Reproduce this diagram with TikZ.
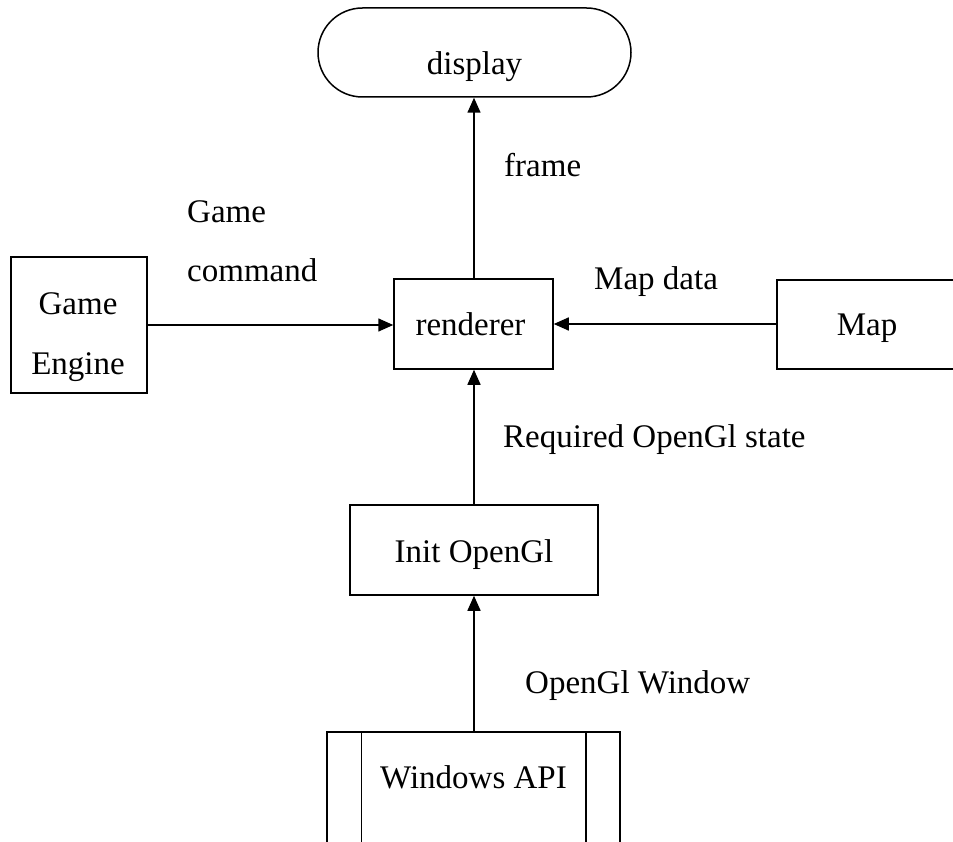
\documentclass[tikz,border=0pt]{standalone}
\usepackage{fontspec}
\setmainfont{Liberation Serif}
\usetikzlibrary{arrows.meta}
\newcommand\mytxt[3]{\raisebox{#2}[0pt][0pt]{\makebox[0pt]{\hspace*{#1}\hspace*{#1}#3}}}
\tikzset{
  box/.style={draw, line width=1.5pt, inner sep=0pt},
  arr/.style={line width=1.5pt, -{Triangle[length=15pt,width=13pt]}},
  lbl/.style={anchor=base west, inner sep=0pt},
}
\begin{document}
\begin{tikzpicture}[x=1pt,y=-1pt,font=\fontsize{33}{38}\selectfont]
\useasboundingbox (0,0) rectangle (953,842);
\clip (0,0) rectangle (953,842);
% display
\node[box, rounded corners=44.5pt, minimum width=313pt, minimum height=89pt] (display) at (474.5,52.5) {\mytxt{0pt}{-22.5pt}{display}};
% renderer
\node[box, minimum width=159pt, minimum height=90pt] (renderer) at (473.5,324) {\mytxt{-3pt}{-11pt}{renderer}};
% game engine
\node[box, minimum width=136pt, minimum height=136pt] (ge) at (79,325) {\mytxt{-1pt}{10pt}{Game}\mytxt{-1pt}{-49pt}{Engine}};
% map
\node[box, minimum width=223pt, minimum height=89pt] (map) at (888.5,324.5) {\mytxt{-21.5pt}{-10.5pt}{Map}};
% init
\node[box, minimum width=248pt, minimum height=90pt] (init) at (474,550) {\mytxt{0pt}{-12pt}{Init OpenGl}};
% windows api
\node[box, minimum width=293pt, minimum height=200pt, anchor=north] (win) at (473.5,731) {\mytxt{0pt}{43pt}{Windows API}};
\draw[line width=1.5pt] ([xshift=35pt]win.north west) -- ([xshift=35pt]win.south west);
\draw[line width=1.5pt] ([xshift=-35pt]win.north east) -- ([xshift=-35pt]win.south east);
% connectors
\draw[arr] (renderer.north -| 474,0) -- (display.south -| 474,0);
\draw[arr] (ge.east |- 0,325) -- (renderer.west |- 0,325);
\draw[arr] (map.west |- 0,324) -- (renderer.east |- 0,324);
\draw[arr] (init.north -| 474,0) -- (renderer.south -| 474,0);
\draw[arr] (win.north -| 474,0) -- (init.south -| 474,0);
% labels
\node[lbl] (lframe) at (504,177) {frame};
\node[lbl] (lgame) at (187,223) {Game};
\node[lbl] (lcmd) at (187,282) {command};
\node[lbl] (lmap) at (594,290) {Map data};
\node[lbl] (lreq) at (503,447) {Required OpenGl state};
\node[lbl] (lwin) at (525,693) {OpenGl Window};
\end{tikzpicture}
\end{document}
